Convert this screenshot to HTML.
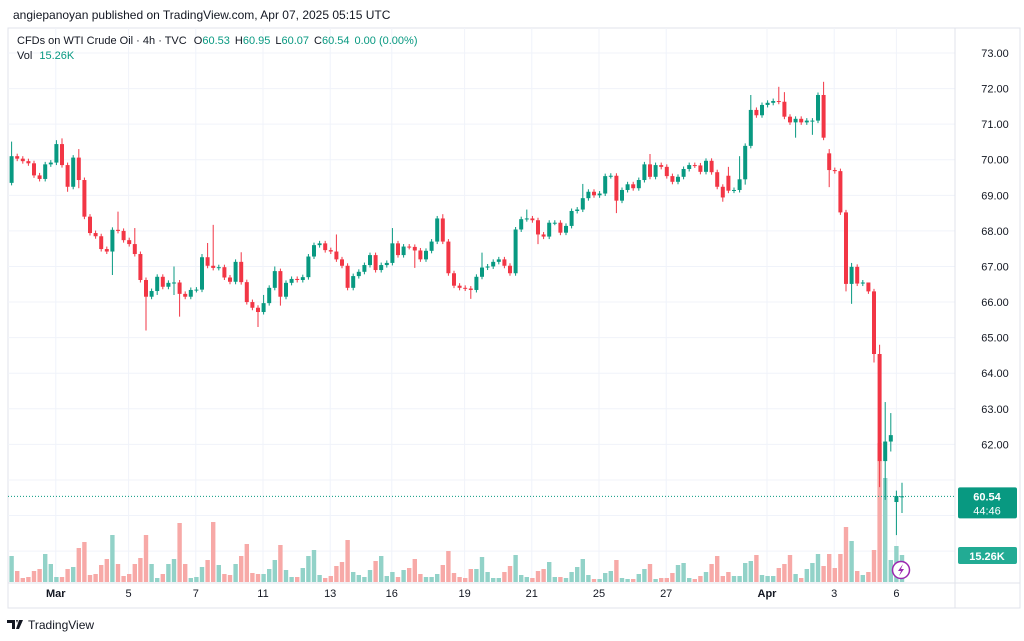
<!DOCTYPE html>
<html><head><meta charset="utf-8"><style>
body{margin:0;background:#fff;width:1024px;height:641px;overflow:hidden;font-family:"Liberation Sans",sans-serif}
svg{display:block}
</style></head><body>
<svg id="chart" width="1024" height="641" viewBox="0 0 1024 641" xmlns="http://www.w3.org/2000/svg">
<text x="13" y="19" font-size="12" fill="#131722">angiepanoyan published on TradingView.com, Apr 07, 2025 05:15 UTC</text>
<rect x="8" y="28" width="1012" height="580" fill="none" stroke="#e0e3eb"/>
<g id="grid"></g>
<g id="vol"></g>
<g id="candles"></g>
<line x1="955" y1="28" x2="955" y2="608" stroke="#e0e3eb"/>
<line x1="8" y1="583" x2="1020" y2="583" stroke="#e0e3eb"/>
<g id="yaxis"></g>
<g id="xaxis"></g>
<text x="17" y="44" font-size="11" fill="#131722">CFDs on WTI Crude Oil · 4h · TVC <tspan dx="4">O</tspan><tspan fill="#089981">60.53</tspan><tspan dx="5">H</tspan><tspan fill="#089981">60.95</tspan><tspan dx="5">L</tspan><tspan fill="#089981">60.07</tspan><tspan dx="5">C</tspan><tspan fill="#089981">60.54</tspan><tspan dx="5" fill="#089981">0.00 (0.00%)</tspan></text>
<text x="17" y="59" font-size="11" fill="#131722">Vol <tspan dx="4" fill="#089981">15.26K</tspan></text>
<line id="pline" x1="8" x2="955" stroke="#089981" stroke-dasharray="1,2"/>
<g>
<rect id="plab" x="958" width="59" height="31" rx="2" fill="#089981"/>
<text id="pt1" x="987" font-size="11" fill="#fff" text-anchor="middle" font-weight="bold">60.54</text>
<text id="pt2" x="987" font-size="11" fill="#fff" text-anchor="middle">44:46</text>
</g>
<g>
<rect x="958" y="547" width="59" height="17" rx="2" fill="#22ab94"/>
<text x="987" y="560" font-size="11" fill="#fff" text-anchor="middle" font-weight="bold">15.26K</text>
</g>
<g>
<circle cx="901" cy="570" r="8.5" fill="#fff" stroke="#9c27b0" stroke-width="1.5"/>
<path d="M903 564 L898 571 L901 571 L899 576 L904 569 L901 569 Z" fill="#9c27b0"/>
</g>
<g>
<path d="M7 620 h8 v9 h-3 v-6 h-5 z M16 620 h2 l-1 3 z M19 620 h4 l-4 9 h-3 z" fill="#131722"/>
<text x="28" y="629" font-size="12" fill="#131722">TradingView</text>
</g>
</svg>
<script>
const closes=[70.10,70.03,69.96,69.90,69.56,69.46,69.87,69.92,70.44,69.85,69.24,70.06,69.43,68.40,67.94,67.85,67.49,67.42,68.03,68.00,67.74,67.63,67.35,66.62,66.15,66.31,66.71,66.43,66.54,66.55,66.23,66.15,66.34,66.35,67.26,67.02,66.96,66.98,66.69,66.57,67.13,66.56,66.00,65.84,65.72,65.97,66.40,66.87,66.15,66.54,66.65,66.62,66.70,67.28,67.60,67.65,67.46,67.42,67.20,67.02,66.40,66.73,66.85,67.04,67.32,66.90,67.04,67.10,67.65,67.32,67.56,67.55,67.45,67.20,67.44,67.70,68.35,67.70,66.81,66.46,66.40,66.38,66.34,66.71,66.97,67.00,67.13,67.20,67.02,66.81,68.04,68.33,68.35,68.30,67.90,67.84,68.23,68.23,67.95,68.14,68.56,68.60,68.92,69.10,69.00,69.05,69.54,69.55,68.85,69.15,69.31,69.20,69.43,69.87,69.52,69.85,69.80,69.54,69.38,69.52,69.74,69.85,69.84,69.66,69.97,69.65,69.24,68.94,69.13,69.15,69.45,70.39,71.40,71.25,71.54,71.60,71.65,71.63,71.21,71.05,71.15,71.05,71.10,71.10,71.82,70.62,69.71,69.68,68.52,66.51,66.99,66.52,66.55,66.30,64.54,61.53,62.08,62.26,60.55,60.54];
const firstOpen=69.35;
const gapOpens={128:69.55,146:70.18,158:60.38,159:60.53};
const highs={0:70.51,8:70.55,9:70.6,12:70.3,19:68.54,22:68.08,29:67.0,34:67.35,35:67.66,36:68.17,41:67.4,45:66.2,47:67.0,58:67.9,68:68.08,77:68.47,84:67.39,92:68.6,102:69.32,114:70.16,128:69.8,130:70.1,132:71.82,137:72.05,138:71.9,145:72.19,146:70.3,150:67.1,153:66.5,155:64.8,156:63.19,157:62.88,158:60.7,159:60.92};
const lows={10:69.1,12:69.2,18:66.76,24:65.2,26:66.2,29:66.2,30:65.59,44:65.3,48:65.9,72:66.96,82:66.09,94:67.63,108:68.5,127:68.82,131:69.3,140:70.62,143:70.7,146:69.23,149:66.3,150:65.95,154:64.3,155:60.8,156:60.44,157:61.8,158:59.45,159:60.07};
const volumes=[26,11,4,5,11,13,28,18,5,5,13,15,34,40,7,8,17,23,47,18,6,8,18,24,47,18,4,8,18,23,59,18,4,5,15,22,60,17,8,7,18,26,38,9,8,8,13,22,37,12,5,5,14,26,32,7,4,6,16,20,42,10,7,5,12,21,26,6,10,5,12,14,23,8,5,5,8,17,31,9,5,4,13,13,25,10,4,4,10,16,27,7,5,4,11,13,20,5,5,4,10,15,23,7,3,3,9,11,22,4,3,3,8,13,18,3,4,4,9,17,19,4,3,6,10,18,26,6,10,6,6,19,21,27,7,6,6,14,18,27,8,4,13,19,28,16,28,14,28,55,41,11,7,10,32,139,104,22,36,27];
const priceTicks=[73,72,71,70,69,68,67,66,65,64,63,62,61,60,59];
const dateLabels=["Mar","5","7","11","13","16","19","21","25","27","Apr","3","6"];
const dateIdx=[7,20,32,44,56,67,80,92,104,116,134,146,158];
const lastPrice=60.54;

const NS="http://www.w3.org/2000/svg";
const X=i=>902-(closes.length-1-i)*5.6;
const Y=p=>53+(73-p)*35.58;
const VY=v=>582-v*1.0;
function mk(tag,at,parent){const e=document.createElementNS(NS,tag);for(const k in at)e.setAttribute(k,at[k]);parent.appendChild(e);return e;}
const grid=document.getElementById('grid'),cg=document.getElementById('candles'),vg=document.getElementById('vol'),ya=document.getElementById('yaxis'),xa=document.getElementById('xaxis');
priceTicks.forEach(p=>{const y=Y(p);if(y>575)return;
 const l=mk('line',{x1:8,x2:955,y1:y,y2:y,stroke:'#f0f3fa'},grid);
 
 
 if(y<470||y>520){const t=mk('text',{x:995,y:y+4,'font-size':11,fill:'#131722','text-anchor':'middle'},ya);t.textContent=p.toFixed(2);
 
 }
});
dateLabels.forEach((d,k)=>{const x=X(dateIdx[k])+(k==dateLabels.length-1?0:5);
 const l=mk('line',{x1:x,x2:x,y1:28,y2:583,stroke:'#f0f3fa'},grid);
 
 
 const t=mk('text',{x:x,y:597,'font-size':11,fill:'#131722','text-anchor':'middle','font-weight':(d=='Mar'||d=='Apr')?'bold':'normal'},xa);t.textContent=d;
 
 
});
closes.forEach((c,i)=>{
 const o=gapOpens[i]!==undefined?gapOpens[i]:(i==0?firstOpen:closes[i-1]);
 const up=c>=o, col=up?'#089981':'#f23645';
 const h=highs[i]!==undefined?highs[i]:Math.max(o,c)+0.07;
 const lo=lows[i]!==undefined?lows[i]:Math.min(o,c)-0.07;
 const x=X(i);
 const v=mk('rect',{x:x-2.2,y:VY(volumes[i]),width:4.4,height:582-VY(volumes[i]),fill:up?'#92d2c8':'#f7a9a7'},vg);
 
 
 const w=mk('line',{x1:x,x2:x,y1:Y(h),y2:Y(lo),stroke:col,'stroke-width':1},cg);
 
 
 const top=Y(Math.max(o,c)),bh=Math.max(1,Y(Math.min(o,c))-top);
 const b=mk('rect',{x:x-2,y:top,width:4,height:bh,fill:col},cg);
 
 
});
const py=Y(lastPrice);
const pl=document.getElementById('pline');pl.setAttribute('y1',py);pl.setAttribute('y2',py);
document.getElementById('plab').setAttribute('y',py-9);
document.getElementById('pt1').setAttribute('y',py+4);
document.getElementById('pt2').setAttribute('y',py+18);
</script>
</body></html>
